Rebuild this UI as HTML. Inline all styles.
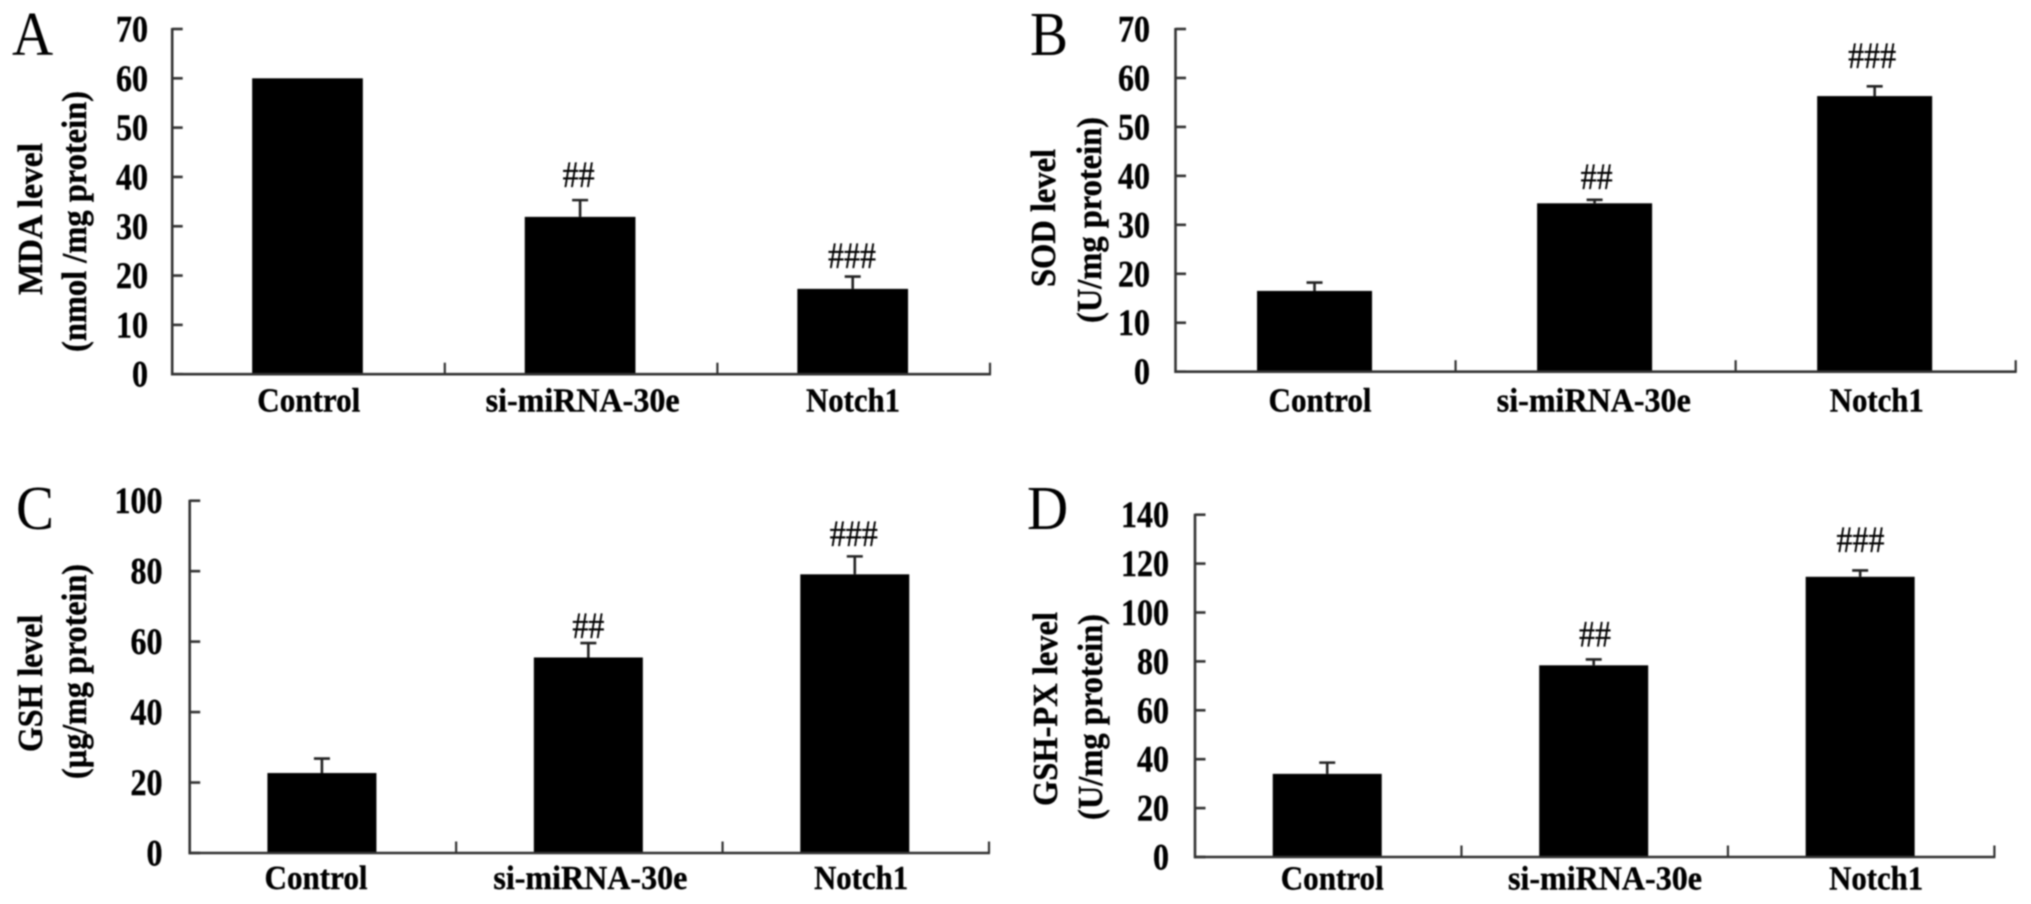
<!DOCTYPE html>
<html lang="en">
<head>
<meta charset="utf-8">
<title>Oxidative stress marker levels</title>
<style>
  html, body { margin: 0; padding: 0; background: #fff; width: 2031px; height: 904px; overflow: hidden; }
  #figure { display: block; filter: blur(0.7px); }
  text { font-family: "Liberation Serif", "Times New Roman", serif; fill: #000; }
  .bold { font-weight: bold; stroke: #000; stroke-width: 0.35px; }
  .hash { stroke: #000; stroke-width: 0.3px; }
</style>
</head>
<body>
<svg id="figure" xmlns="http://www.w3.org/2000/svg" width="2031" height="904" viewBox="0 0 2031 904"></svg>
<script>
const categories = ['Control', 'si-miRNA-30e', 'Notch1'];
const significance = ['', '##', '###'];

const mdaMeans = [60, 31.9, 17.3];
const mdaErrors = [0, 3.4, 2.5];
const mdaTicks = [0, 10, 20, 30, 40, 50, 60, 70];

const sodMeans = [16.5, 34.4, 56.3];
const sodErrors = [1.7, 0.7, 2.0];
const sodTicks = [0, 10, 20, 30, 40, 50, 60, 70];

const gshMeans = [22.7, 55.5, 79.1];
const gshErrors = [4.1, 4.1, 5.1];
const gshTicks = [0, 20, 40, 60, 80, 100];

const gpxMeans = [34, 78.4, 114.6];
const gpxErrors = [4.6, 2.4, 2.6];
const gpxTicks = [0, 20, 40, 60, 80, 100, 120, 140];

const panels = [
  { id: 'a', letter: 'A', letterX: 12, letterY: 55, left: 172.2, right: 990, top: 29, bottom: 374.2,
    means: mdaMeans, errors: mdaErrors, ticks: mdaTicks, tickRight: 148, barWidth: 110.7,
    labelShift: [0.3, 1.5, -0.7], labelY: 411.5, hashGap: [0, 13, 8.5], hashShift: [0, -1.5, -0.7],
    titles: [
      { text: 'MDA  level', x: 42, y0: 295, y1: 143 },
      { text: '(nmol /mg protein)', x: 86, y0: 352, y1: 91 }
    ] },
  { id: 'b', letter: 'B', letterX: 1030, letterY: 55, left: 1175.5, right: 2015.7, top: 29, bottom: 371.7,
    means: sodMeans, errors: sodErrors, ticks: sodTicks, tickRight: 1150, barWidth: 115,
    labelShift: [4.5, -1.8, 1.1], labelY: 411.5, hashGap: [0, 11, 18.5], hashShift: [0, 2, -2.5],
    titles: [
      { text: 'SOD level', x: 1055, y0: 287, y1: 149 },
      { text: '(U/mg protein)', x: 1101, y0: 323, y1: 117 }
    ] },
  { id: 'c', letter: 'C', letterX: 16, letterY: 529, left: 189.7, right: 989, top: 500.7, bottom: 853,
    means: gshMeans, errors: gshErrors, ticks: gshTicks, tickRight: 162.5, barWidth: 109,
    labelShift: [-6.9, 1, 5.3], labelY: 889, hashGap: [0, 5, 10.5], hashShift: [0, 0, -1],
    titles: [
      { text: 'GSH level', x: 42, y0: 752, y1: 614.7 },
      { text: '(\u00b5g/mg protein)', x: 86, y0: 779, y1: 564 }
    ] },
  { id: 'd', letter: 'D', letterX: 1027, letterY: 529, left: 1195, right: 1994.4, top: 514.7, bottom: 857,
    means: gpxMeans, errors: gpxErrors, ticks: gpxTicks, tickRight: 1169, barWidth: 109,
    labelShift: [4, 10.3, 15], labelY: 889.5, hashGap: [0, 13, 18.5], hashShift: [0, 1.3, 0.3],
    titles: [
      { text: 'GSH-PX level', x: 1057, y0: 806, y1: 612 },
      { text: '(U/mg protein)', x: 1102, y0: 820, y1: 614 }
    ] }
];

const labelLengths = [103, 194, 94];

const svgNS = 'http://www.w3.org/2000/svg';
const root = document.getElementById('figure');

function make(tag, parent, attrs, content) {
  const node = document.createElementNS(svgNS, tag);
  for (const key in attrs) node.setAttribute(key, attrs[key]);
  if (content !== undefined) node.textContent = content;
  parent.appendChild(node);
  return node;
}

function tall(x, y, stretch) {
  return 'translate(' + x + ',' + y + ') scale(1,' + stretch + ')';
}

function drawPanel(p) {
  const group = make('g', root, {});
  
  

  const maxTick = p.ticks[p.ticks.length - 1];
  const yScale = v => p.bottom - (v / maxTick) * (p.bottom - p.top);
  const band = (p.right - p.left) / categories.length;
  const xCenter = i => p.left + (i + 0.5) * band - 1;

  const letter = make('text', group, { transform: tall(p.letterX, p.letterY, 1.1), 'font-size': 57 }, p.letter);
  
  

  p.titles.forEach(t => {
    const title = make('text', group, {
      class: 'bold',
      'font-size': 31,
      transform: 'translate(' + t.x + ',' + t.y0 + ') rotate(-90) scale(1,1.13)',
      textLength: t.y0 - t.y1,
      lengthAdjust: 'spacingAndGlyphs',
      'xml:space': 'preserve'
    }, t.text);
    
    
  });

  p.means.forEach((mean, i) => {
    const cx = xCenter(i);
    const top = yScale(mean);
    const bar = make('rect', group, {
      x: cx - p.barWidth / 2, y: top, width: p.barWidth, height: p.bottom - top, fill: '#000'
    });
    
    

    const errTop = yScale(mean + p.errors[i]);
    if (p.errors[i] > 0) {
      const stem = make('line', group, {
        x1: cx, x2: cx, y1: top, y2: errTop, stroke: '#222', 'stroke-width': 2.6
      });
      
      
      const cap = make('line', group, {
        x1: cx - 8, x2: cx + 8, y1: errTop, y2: errTop, stroke: '#222', 'stroke-width': 2.6
      });
      
      
    }

    if (significance[i]) {
      const mark = make('text', group, {
        class: 'hash',
        transform: tall(cx + p.hashShift[i], errTop - p.hashGap[i], 1.17),
        'font-size': 32,
        'text-anchor': 'middle'
      }, significance[i]);
      
      
    }

    const label = make('text', group, {
      class: 'bold',
      transform: tall(cx + 1 + p.labelShift[i] - labelLengths[i] / 2, p.labelY, 1.08),
      textLength: labelLengths[i],
      lengthAdjust: 'spacingAndGlyphs',
      'font-size': 31.2
    }, categories[i]);
    
    
  });

  const yAxis = make('line', group, {
    x1: p.left, x2: p.left, y1: p.top - 1, y2: p.bottom + 1.3, stroke: '#333', 'stroke-width': 2.6
  });
  
  

  const xAxis = make('line', group, {
    x1: p.left - 1, x2: p.right + 1, y1: p.bottom, y2: p.bottom, stroke: '#333', 'stroke-width': 2.6
  });
  
  

  categories.forEach((c, i) => {
    const tx = p.left + (i + 1) * band;
    const tick = make('line', group, {
      x1: tx, x2: tx, y1: p.bottom, y2: p.bottom - 11.5, stroke: '#333', 'stroke-width': 2.2
    });
    
    
  });

  p.ticks.forEach(v => {
    const ty = yScale(v);
    const tick = make('line', group, {
      x1: p.left, x2: p.left + 10.5, y1: ty, y2: ty, stroke: '#333', 'stroke-width': 2.6
    });
    
    
    const label = make('text', group, {
      class: 'bold',
      transform: tall(p.tickRight, ty + 12.5, 1.15),
      'font-size': 32,
      'text-anchor': 'end'
    }, String(v));
    
    
  });
}

panels.forEach(drawPanel);
</script>
</body>
</html>
